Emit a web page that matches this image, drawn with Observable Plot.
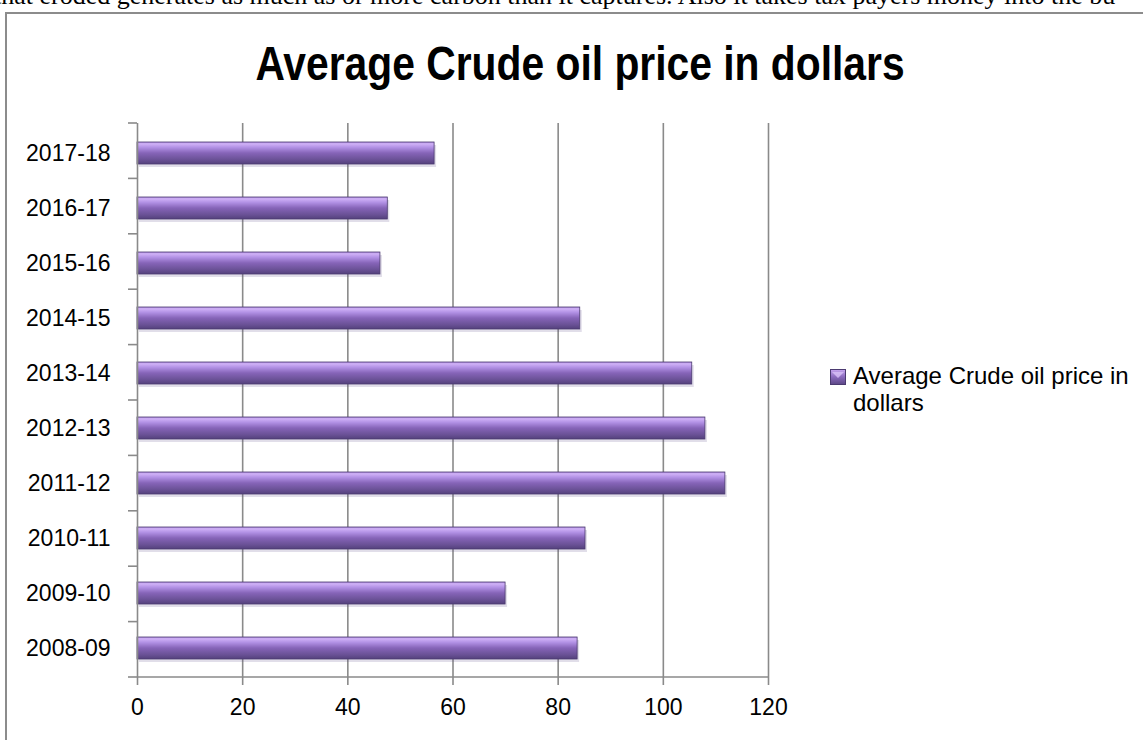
<!DOCTYPE html>
<html>
<head>
<meta charset="utf-8">
<script src="https://cdn.jsdelivr.net/npm/d3@7"></script>
<script src="https://cdn.jsdelivr.net/npm/@observablehq/plot@0.6"></script>
<style>
  html, body { margin: 0; padding: 0; background: #fff; overflow: hidden; }
  #page { position: relative; width: 1143px; height: 740px; overflow: hidden; }
  #toptext { position: absolute; left: -6px; top: -19px; white-space: nowrap;
    font-family: "Liberation Serif", "Times New Roman", serif; font-size: 26px; color: #000; }
  #frame { position: absolute; left: 5px; top: 12px; width: 1160px; height: 760px;
    border: 2px solid #8c8c8c; box-sizing: border-box; }
  #title { position: absolute; left: 580px; top: 36px; white-space: nowrap;
    transform: translateX(-50%) scaleX(0.85); transform-origin: center;
    font-family: "Liberation Sans", Arial, sans-serif;
    font-weight: bold; font-size: 48px; color: #000; line-height: 56px; }
  #chart { position: absolute; left: 0; top: 100px; }
  #legend { position: absolute; left: 830px; top: 362px;
    font-family: "Liberation Sans", Arial, sans-serif; font-size: 24px; line-height: 27px; color: #000; }
  #legend .sw { position: absolute; left: 0; top: 7px; width: 16px; height: 16px; }
  #legend .tx { position: absolute; left: 23px; top: 0; white-space: nowrap; }
</style>
</head>
<body>
<div id="page">
  <div id="toptext">that eroded generates as much as or more carbon than it captures. Also it takes tax payers money into the bu</div>
  <div id="frame"></div>
  <div id="title">Average Crude oil price in dollars</div>
  <div id="chart"></div>
  <div id="legend">
    <svg class="sw" width="16" height="16"><defs>
      <linearGradient id="lg" x1="0" y1="0" x2="0" y2="1">
        <stop offset="0" stop-color="#c7a6f0"/><stop offset="0.5" stop-color="#8a69bd"/><stop offset="1" stop-color="#5b4785"/>
      </linearGradient></defs>
      <rect x="0.5" y="0.5" width="15" height="15" fill="url(#lg)" stroke="#4b3a70"/>
      <path d="M2,3 L14,3 L8,9 Z" fill="#d9c2f7" opacity="0.8"/>
    </svg>
    <div class="tx">Average Crude oil price in<br>dollars</div>
  </div>
</div>
<script>
// Data
const years = ["2008-09","2009-10","2010-11","2011-12","2012-13","2013-14","2014-15","2015-16","2016-17","2017-18"];
const prices = [83.7, 70.0, 85.2, 111.8, 108.0, 105.5, 84.2, 46.2, 47.6, 56.5];
const xTicks = [0, 20, 40, 60, 80, 100, 120];
const seriesName = "Average Crude oil price in dollars";

const data = years.map((y, i) => ({year: y, price: prices[i]}));

const plot = Plot.plot({
  width: 800,
  height: 640,
  marginLeft: 137,
  marginRight: 32,
  marginTop: 23,
  marginBottom: 63,
  style: {fontFamily: "'Liberation Sans', Arial, sans-serif", fontSize: "23px", color: "#000", background: "transparent"},
  x: {domain: [0, 120], ticks: xTicks},
  y: {domain: years.slice().reverse(), paddingInner: 0.6, paddingOuter: 0.3},
  marks: [
    Plot.gridX(xTicks.filter(t => t > 0), {stroke: "#8a8a8a", strokeOpacity: 1, strokeWidth: 1.6}),
    Plot.barX(data, {y: "year", x: "price", fill: "#5b4785", dy: 3, dx: 2, fillOpacity: 0.18}),
    Plot.barX(data, {y: "year", x: "price", fill: "url(#barGrad)", stroke: "#4b3a70", strokeWidth: 0.8, title: d => `${seriesName}: ${d.price}`}),
    Plot.axisX({ticks: xTicks, tickSize: 8, tickPadding: 13, stroke: "#8a8a8a", strokeWidth: 1.6, fontSize: 23, label: null}),
    Plot.axisY({tickSize: 0, tickPadding: 27, fontSize: 23, label: null}),
    Plot.ruleX([0], {stroke: "#8a8a8a", strokeWidth: 1.6})
  ]
});

// gradient definition
const svg = d3.select(plot);
const defs = svg.insert("defs", ":first-child");
const g = defs.append("linearGradient").attr("id", "barGrad").attr("x1", 0).attr("y1", 0).attr("x2", 0).attr("y2", 1);
[[0, "#a786d8"], [0.08, "#d0b1f7"], [0.25, "#b190e4"], [0.5, "#8664b8"], [0.8, "#6a5196"], [1, "#54417c"]]
  .forEach(([o, c]) => g.append("stop").attr("offset", o).attr("stop-color", c));

// band-boundary ticks on the category axis and the bottom axis line, from the library's scales
const ys = plot.scale("y");
const xs = plot.scale("x");
const yScale = d3.scaleBand().domain(ys.domain).range(ys.range).paddingInner(0.6).paddingOuter(0.3);
const step = yScale.step();
const x0 = xs.apply(0), x1 = xs.apply(120);
const bounds = ys.domain.map(d => yScale(d) + yScale.bandwidth() / 2 - step / 2);
bounds.push(yScale(ys.domain[ys.domain.length - 1]) + yScale.bandwidth() / 2 + step / 2);
const tg = svg.append("g").attr("stroke", "#8a8a8a").attr("stroke-width", 1.6);
bounds.forEach(b => tg.append("line").attr("x1", x0 - 9).attr("x2", x0).attr("y1", b).attr("y2", b));
const yBottom = d3.max(ys.range);
tg.append("line").attr("x1", x0).attr("x2", x1).attr("y1", yBottom).attr("y2", yBottom);

document.getElementById("chart").appendChild(plot);
</script>
</body>
</html>
